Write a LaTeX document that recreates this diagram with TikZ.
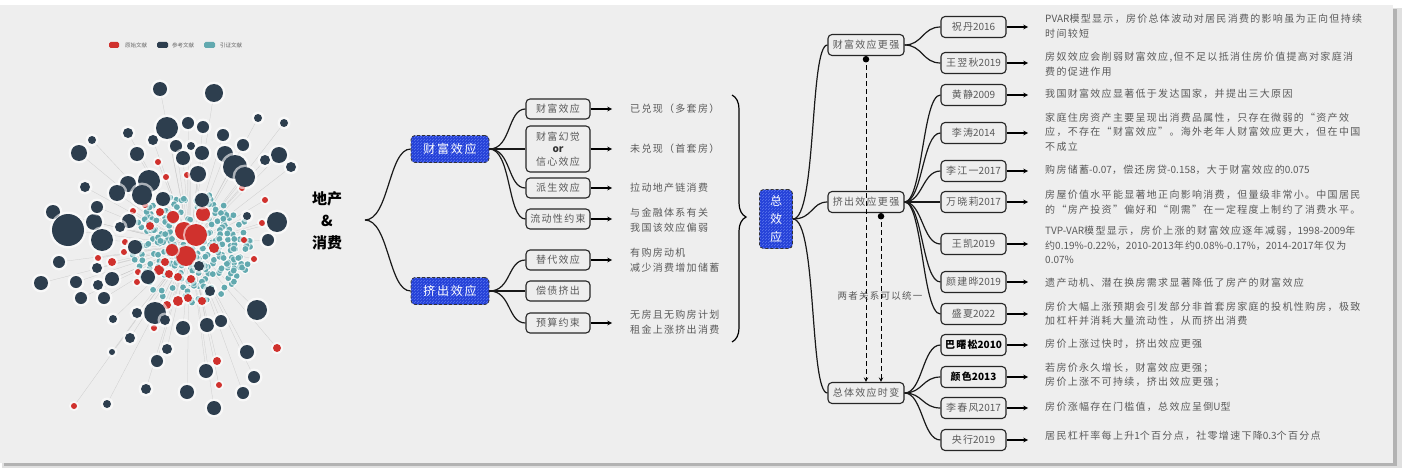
\documentclass[tikz,border=0pt]{standalone}
\usepackage{fontspec}
\setmainfont{Noto Sans CJK SC}
\newfontfamily\cjkfont[LetterSpace=13]{Noto Sans CJK SC}
\newfontfamily\topicfont[LetterSpace=15]{Noto Sans CJK SC}
\newfontfamily\plainfont{Noto Sans CJK SC}
\newcommand\lat[1]{{\plainfont #1}}
\usetikzlibrary{shapes.geometric, arrows, positioning, calc, decorations.pathreplacing, patterns}

\definecolor{panel}{HTML}{EEEEEE}
\definecolor{sketchblue}{HTML}{2440D8}
\definecolor{hatch}{HTML}{5A76EC}
\definecolor{inkgray}{HTML}{5A5A5A}
\definecolor{netdark}{HTML}{2D3E4E}
\definecolor{netred}{HTML}{D0312D}
\definecolor{netteal}{HTML}{62A9AF}

% citation network: x/y/radius
\newcommand\darknodes{160/89/7, 214/93/9, 167/128/11, 188/123/6, 203/127/6, 128/133/5, 92/140/4, 79/153/8,
  153/140/5, 176/146/6, 191/146/4, 202/153/7, 223/135/6, 243/145/6, 258/118/4, 284/123/4, 279/155/8,
  265/160/5, 291/167/5, 225/154/8, 235/167/12, 245/177/10, 137/154/7, 183/158/7, 198/174/8, 149/181/11,
  128/184/8, 117/193/8, 142/195/10, 163/199/7, 85/187/5, 53/212/7, 68/230/16, 94/222/8, 102/240/11,
  97/207/6, 129/221/7, 120/227/5, 202/200/7, 247/216/4, 277/222/10, 268/240/6, 59/262/6, 41/283/7,
  76/282/6, 81/298/6, 98/285/5, 104/298/6, 112/279/7, 97/268/5, 135/247/7, 148/277/7, 155/313/11,
  165/320/5, 137/313/5, 113/319/4, 130/338/5, 112/352/3, 167/349/5, 157/361/6, 183/328/7, 207/325/7,
  221/321/6, 210/291/5, 199/266/5, 257/310/10, 247/352/7, 254/377/6, 243/393/6, 206/371/7, 187/392/7,
  214/408/7, 146/389/5, 107/404/4}
\newcommand\rednodes{158/162/3, 166/177/3, 187/175/3, 265/200/3, 262/223/3, 244/240/3, 242/188/3,
  145/205/3, 133/211/3, 125/242/3, 74/406/3, 277/348/4, 217/361/4, 219/385/3, 254/259/3, 98/258/3,
  112/262/4, 124/252/3, 138/272/3, 137/282/3, 154/328/3, 167/305/4, 178/301/5, 188/298/4, 202/301/4,
  159/270/5, 169/274/4, 178/277/4, 191/279/4, 165/262/4, 173/217/6, 203/214/7, 184/231/9, 196/235/11,
  186/256/10, 172/250/6, 160/212/4, 150/226/4, 214/248/5}

\begin{document}
\begin{tikzpicture}[x=1pt, y=-1pt]
        \tikzstyle{topic} = [rectangle, rounded corners=4pt, draw=black!80, densely dashed, line width=0.8pt, preaction={fill=sketchblue}, pattern=north east lines, pattern color=hatch, text=white, font=\fontsize{12}{14}\topicfont, minimum width=78pt, minimum height=27pt, inner sep=2pt, align=center]
        \tikzstyle{effect} = [rectangle, rounded corners=4pt, draw=black!85, line width=1.1pt, fill=panel, text=inkgray, font=\fontsize{10}{12.5}\cjkfont, minimum width=64pt, minimum height=20pt, inner sep=1pt, align=center]
        \tikzstyle{verdict} = [effect, minimum width=76pt, minimum height=21pt]
        \tikzstyle{paper} = [effect, minimum width=65pt, minimum height=21pt]
        \tikzstyle{note} = [anchor=west, align=left, inner sep=0pt, text=inkgray, font=\fontsize{10}{14.5}\cjkfont]
        \tikzstyle{legend} = [anchor=west, inner sep=0pt, text=black!60, font=\fontsize{5.5}{6}\selectfont]
        \tikzstyle{link} = [line width=1.2pt, black!90]
        \tikzstyle{arrow} = [line width=1.1pt, ->, >=stealth]
        \tikzstyle{dasharrow} = [line width=1pt, dash pattern=on 5pt off 3pt, *->, >=stealth]
        \tikzstyle{netedge} = [black!30, line width=0.25pt, opacity=0.6]

        \useasboundingbox (0,0) rectangle (1404,468);
        \fill [white] (0,0) rectangle (1404,468);
        \fill [black!12] (2,8) rectangle (1402,468);
        \fill [black!30] (4,9) rectangle (1397,466);
        \fill [panel] (0,5) rectangle (1393,463);

        % citation network
        \fill [netred, rounded corners=1.5pt] (109,42) rectangle (119,48);
        \node (lgred) at (125,45) [legend] {原始文献};
        \fill [netdark, rounded corners=1.5pt] (157,42) rectangle (168,48);
        \node (lgdark) at (172,45) [legend] {参考文献};
        \fill [netteal, rounded corners=1.5pt] (204,42) rectangle (215,48);
        \node (lgteal) at (220,45) [legend] {引证文献};

        \foreach \x/\y/\r in \darknodes \draw [netedge] (\x,\y) -- (190,245);
        \foreach \x/\y/\r in \rednodes \draw [netedge] (\x,\y) -- (190,245);
        \pgfmathsetseed{42}
        \foreach \i in {1,...,240} {
            \pgfmathsetmacro\ang{360*rnd}
            \pgfmathsetmacro\rad{sqrt(rnd)}
            \fill [white, opacity=0.6] ({191+60*\rad*cos(\ang)},{247+56*\rad*sin(\ang)}) circle [radius=4.2pt];
            \fill [netteal] ({191+60*\rad*cos(\ang)},{247+56*\rad*sin(\ang)}) circle [radius=2.9pt];
        }
        \foreach \x/\y/\r in \rednodes {
            \fill [white, opacity=0.6] (\x,\y) circle [radius=\r pt+2pt];
            \fill [netred] (\x,\y) circle [radius=\r pt];
        }
        \foreach \x/\y/\r in \darknodes {
            \fill [white, opacity=0.6] (\x,\y) circle [radius=\r pt+2.5pt];
            \fill [netdark] (\x,\y) circle [radius=\r pt];
        }

        % mind map
        \node (title) at (327,221) [font=\fontsize{15}{22}\selectfont\bfseries, align=center] {地产\\\&\\消费};
        \coordinate (root) at (365,220);
        \node (wealth) at (450,149) [topic] {财富效应};
        \node (crowd) at (450,291) [topic] {挤出效应};

        \node (w1) at (558,109) [effect] {财富效应};
        \node (w2) at (558,149) [effect, minimum height=46pt] {财富幻觉\\{\color{black!80}\bfseries\plainfont or}\\信心效应};
        \node (w3) at (558,188) [effect] {派生效应};
        \node (w4) at (558,219) [effect] {流动性约束};
        \node (c1) at (558,260) [effect] {替代效应};
        \node (c2) at (558,291) [effect] {偿债挤出};
        \node (c3) at (558,323) [effect] {预算约束};

        \node (w1t) at (630,109) [note] {已兑现（多套房）};
        \node (w2t) at (630,149) [note] {未兑现（首套房）};
        \node (w3t) at (630,188) [note] {拉动地产链消费};
        \node (w4t) at (630,220) [note] {与金融体系有关\\我国该效应偏弱};
        \node (c1t) at (630,260) [note] {有购房动机\\减少消费增加储蓄};
        \node (c3t) at (630,322) [note] {无房且无购房计划\\租金上涨挤出消费};

        \draw [link] (root) .. controls +(24,0) and +(-22,0) .. (wealth.west);
        \draw [link] (root) .. controls +(24,0) and +(-22,0) .. (crowd.west);
        \draw [link] (wealth.east) .. controls +(22,0) and +(-18,0) .. (w1.west);
        \draw [link] (wealth.east) -- (w2.west);
        \draw [link] (wealth.east) .. controls +(22,0) and +(-18,0) .. (w3.west);
        \draw [link] (wealth.east) .. controls +(22,0) and +(-18,0) .. (w4.west);
        \draw [link] (crowd.east) .. controls +(22,0) and +(-18,0) .. (c1.west);
        \draw [link] (crowd.east) -- (c2.west);
        \draw [link] (crowd.east) .. controls +(22,0) and +(-18,0) .. (c3.west);
        \draw [arrow, shorten >=18pt] (w1.east) -- (w1.east -| w1t.west);
        \draw [arrow, shorten >=18pt] (w2.east) -- (w2.east -| w2t.west);
        \draw [arrow, shorten >=18pt] (w3.east) -- (w3.east -| w3t.west);
        \draw [arrow, shorten >=18pt] (w4.east) -- (w4.east -| w4t.west);
        \draw [arrow, shorten >=18pt] (c1.east) -- (c1.east -| c1t.west);
        \draw [arrow, shorten >=18pt] (c3.east) -- (c3.east -| c3t.west);

        \draw [line width=1.2pt, decorate, decoration={brace, amplitude=14pt, aspect=0.494}] (732,95) -- (732,342);

        \node (total) at (776,219) [topic, minimum width=33pt, minimum height=59pt, font=\fontsize{12}{18}\selectfont] {总\\效\\应};
        \node (strong1) at (866,45) [verdict] {财富效应更强};
        \node (strong2) at (866,202) [verdict] {挤出效应更强};
        \node (vary) at (866,393) [verdict] {总体效应时变};
        \draw [link] (total.east) .. controls +(24,0) and +(-18,0) .. (strong1.west);
        \draw [link] (total.east) .. controls +(20,0) and +(-16,0) .. (strong2.west);
        \draw [link] (total.east) .. controls +(24,0) and +(-18,0) .. (vary.west);
        \draw [dasharrow] (strong1.south) -- (vary.north);
        \draw [dasharrow] ([xshift=15pt]strong2.south) -- ([xshift=15pt]vary.north);
        \node (unify) at (880,296) [text=inkgray, font=\fontsize{9.5}{11}\cjkfont] {两者关系可以统一};

        \node (p1) at (973.5,27) [paper] {祝丹\lat{2016}};
        \node (p2) at (973.5,63) [paper] {王翌秋\lat{2019}};
        \node (p3) at (973.5,95) [paper] {黄静\lat{2009}};
        \node (p4) at (973.5,133) [paper] {李涛\lat{2014}};
        \node (p5) at (973.5,171) [paper] {李江一\lat{2017}};
        \node (p6) at (973.5,202) [paper] {万晓莉\lat{2017}};
        \node (p7) at (973.5,244) [paper] {王凯\lat{2019}};
        \node (p8) at (973.5,282) [paper] {颜建晔\lat{2019}};
        \node (p9) at (973.5,314) [paper] {盛夏\lat{2022}};
        \node (p10) at (973.5,345) [paper, text=black] {\bfseries 巴曙松\lat{2010}};
        \node (p11) at (973.5,377) [paper, text=black] {\bfseries 颜色\lat{2013}};
        \node (p12) at (973.5,408) [paper] {李春风\lat{2017}};
        \node (p13) at (973.5,440) [paper] {央行\lat{2019}};

        \draw [link] (strong1.east) .. controls +(18,0) and +(-18,0) .. (p1.west);
        \draw [link] (strong1.east) .. controls +(18,0) and +(-18,0) .. (p2.west);
        \draw [link] (strong2.east) .. controls +(18,0) and +(-18,0) .. (p3.west);
        \draw [link] (strong2.east) .. controls +(18,0) and +(-18,0) .. (p4.west);
        \draw [link] (strong2.east) .. controls +(18,0) and +(-18,0) .. (p5.west);
        \draw [link] (strong2.east) -- (p6.west);
        \draw [link] (strong2.east) .. controls +(18,0) and +(-18,0) .. (p7.west);
        \draw [link] (strong2.east) .. controls +(18,0) and +(-18,0) .. (p8.west);
        \draw [link] (strong2.east) .. controls +(18,0) and +(-18,0) .. (p9.west);
        \draw [link] (vary.east) .. controls +(18,0) and +(-18,0) .. (p10.west);
        \draw [link] (vary.east) .. controls +(18,0) and +(-18,0) .. (p11.west);
        \draw [link] (vary.east) .. controls +(18,0) and +(-18,0) .. (p12.west);
        \draw [link] (vary.east) .. controls +(18,0) and +(-18,0) .. (p13.west);

        \node (n1) at (1045,26) [note] {\lat{PVAR}模型显示，房价总体波动对居民消费的影响虽为正向但持续\\时间较短};
        \node (n2) at (1045,64) [note] {房奴效应会削弱财富效应,但不足以抵消住房价值提高对家庭消\\费的促进作用};
        \node (n3) at (1045,94) [note] {我国财富效应显著低于发达国家，并提出三大原因};
        \node (n4) at (1045,132) [note] {家庭住房资产主要呈现出消费品属性，只存在微弱的“资产效\\应，不存在“财富效应”。海外老年人财富效应更大，但在中国\\不成立};
        \node (n5) at (1045,170) [note] {购房储蓄\lat{-0.07}，偿还房贷\lat{-0.158}，大于财富效应的\lat{0.075}};
        \node (n6) at (1045,202) [note] {房屋价值水平能显著地正向影响消费，但量级非常小。中国居民\\的“房产投资”偏好和“刚需”在一定程度上制约了消费水平。};
        \node (n7) at (1045,245) [note] {\lat{TVP-VAR}模型显示，房价上涨的财富效应逐年减弱，\lat{1998-2009}年\\约\lat{0.19\%-0.22\%}，\lat{2010-2013}年约\lat{0.08\%-0.17\%}，\lat{2014-2017}年仅为\\\lat{0.07\%}};
        \node (n8) at (1045,283) [note] {遗产动机、潜在换房需求显著降低了房产的财富效应};
        \node (n9) at (1045,314) [note] {房价大幅上涨预期会引发部分非首套房家庭的投机性购房，极致\\加杠杆并消耗大量流动性，从而挤出消费};
        \node (n10) at (1045,344) [note] {房价上涨过快时，挤出效应更强};
        \node (n11) at (1045,375) [note] {若房价永久增长，财富效应更强；\\房价上涨不可持续，挤出效应更强；};
        \node (n12) at (1045,407) [note] {房价涨幅存在门槛值，总效应呈倒\lat{U}型};
        \node (n13) at (1045,436) [note] {居民杠杆率每上升\lat{1}个百分点，社零增速下降\lat{0.3}个百分点};

        \draw [arrow, shorten >=17pt] (p1.east) -- (p1.east -| n1.west);
        \draw [arrow, shorten >=17pt] (p2.east) -- (p2.east -| n2.west);
        \draw [arrow, shorten >=17pt] (p3.east) -- (p3.east -| n3.west);
        \draw [arrow, shorten >=17pt] (p4.east) -- (p4.east -| n4.west);
        \draw [arrow, shorten >=17pt] (p5.east) -- (p5.east -| n5.west);
        \draw [arrow, shorten >=17pt] (p6.east) -- (p6.east -| n6.west);
        \draw [arrow, shorten >=17pt] (p7.east) -- (p7.east -| n7.west);
        \draw [arrow, shorten >=17pt] (p8.east) -- (p8.east -| n8.west);
        \draw [arrow, shorten >=17pt] (p9.east) -- (p9.east -| n9.west);
        \draw [arrow, shorten >=17pt] (p10.east) -- (p10.east -| n10.west);
        \draw [arrow, shorten >=17pt] (p11.east) -- (p11.east -| n11.west);
        \draw [arrow, shorten >=17pt] (p12.east) -- (p12.east -| n12.west);
        \draw [arrow, shorten >=17pt] (p13.east) -- (p13.east -| n13.west);
\end{tikzpicture}
\end{document}
